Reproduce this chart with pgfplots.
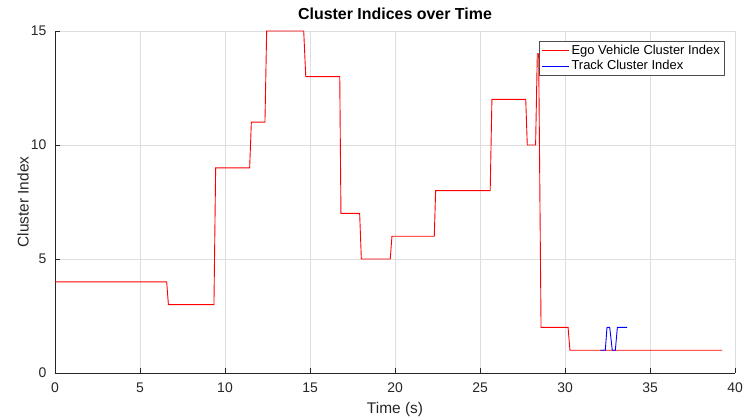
\documentclass[border=0pt]{standalone}
\usepackage{fontspec}
\setmainfont{Liberation Sans}
\usepackage{pgfplots}
\pgfplotsset{compat=1.18}

\definecolor{axgray}{gray}{0.15}
\definecolor{gridgray}{gray}{0.87}

\begin{document}
\begin{tikzpicture}[x=1bp,y=1bp]
% fixed canvas so that margins around the axis stay put
\path[use as bounding box] (0,0) rectangle (743,419);
\begin{axis}[
  at={(55bp,46bp)}, anchor=south west,
  scale only axis, width=680bp, height=342bp,
  xmin=0, xmax=40, ymin=0, ymax=15,
  xtick={0,5,...,40}, ytick={0,5,10,15},
  axis lines=left, axis line style={-, axgray, line width=0.6bp},
  tick align=inside, major tick length=5bp,
  tick style={axgray, line width=0.6bp},
  grid=major, grid style={gridgray, line width=0.6bp},
  /pgf/number format/assume math mode=true,
  tick label style={font=\fontsize{14}{16}\selectfont, text=axgray},
  xticklabel style={anchor=center, yshift=-15bp},
  yticklabel style={anchor=east, xshift=-5bp},
  xlabel={Time (s)}, ylabel={Cluster Index},
  label style={font=\fontsize{15.5}{18}\selectfont, text=axgray},
  xlabel style={at={(rel axis cs:0.5,0)}, anchor=center, yshift=-36bp},
  ylabel style={at={(rel axis cs:0,0.5)}, anchor=center, yshift=32bp},
  title={Cluster Indices over Time},
  title style={at={(rel axis cs:0.5,1)}, anchor=center, yshift=11bp,
    font=\bfseries\fontsize{16}{18}\selectfont},
  legend style={at={(rel axis cs:0.984,0.971)}, anchor=north east,
    draw=gray!60!black, line width=0.6bp, fill=white,
    font=\fontsize{13}{15}\selectfont, inner sep=2bp,
    row sep=0.5bp},
  legend cell align=left,
  legend image code/.code={\draw[#1, line width=1bp] (0bp,0bp) -- (27bp,0bp);},
]
\addplot[red, line width=0.9bp] coordinates {
  (0,4) (6.57,4) (6.67,3) (9.35,3) (9.45,9) (11.45,9) (11.55,11)
  (12.35,11) (12.45,15) (14.63,15) (14.75,13) (16.75,13) (16.82,7)
  (17.92,7) (18.02,5) (19.72,5) (19.82,6) (22.31,6) (22.39,8)
  (25.6,8) (25.7,12) (27.69,12) (27.78,10) (28.27,10) (28.37,14)
  (28.45,14) (28.59,2) (30.18,2) (30.29,1) (39.24,1)
};
\addlegendentry{Ego Vehicle Cluster Index}
\addplot[blue, line width=0.9bp] coordinates {
  (32.08,1) (32.37,1) (32.47,2) (32.63,2) (32.78,1) (32.96,1)
  (33.08,2) (33.65,2)
};
\addlegendentry{Track Cluster Index}
\end{axis}
\end{tikzpicture}
\end{document}
